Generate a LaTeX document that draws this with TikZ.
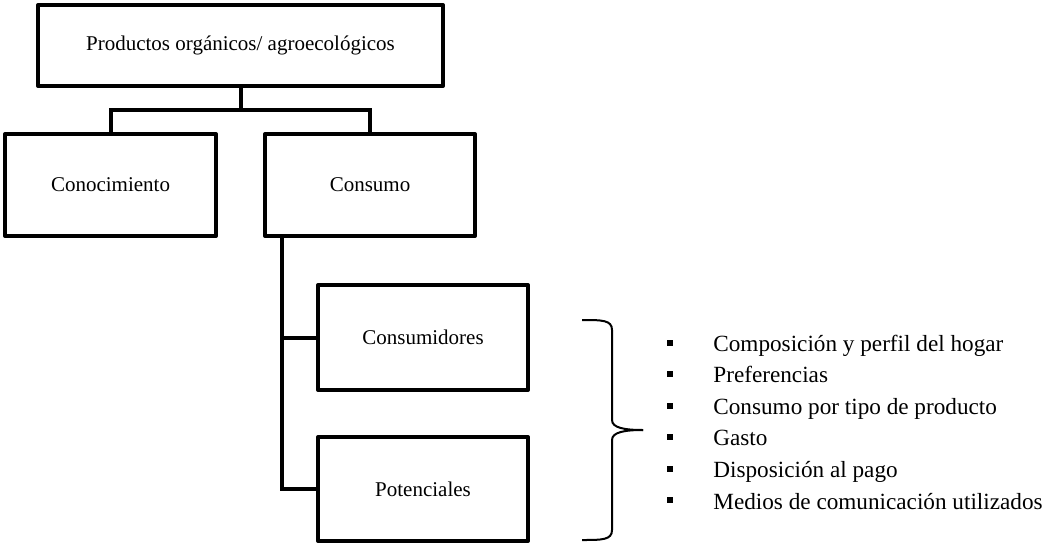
\documentclass[tikz,border=0pt]{standalone}
\usepackage{fontspec}
\setmainfont{Liberation Serif}

\begin{document}
\begin{tikzpicture}[x=0.5pt,y=-0.5pt,
box/.style = {% tree boxes
    draw=black, line width=2pt, line join=round, inner sep=0pt,
    font=\fontsize{10.5}{12.6}\selectfont,
            },
lnk/.style = {% tree connectors
    draw=black, line width=2pt, line join=miter,
            },
itm/.style = {% list texts
    anchor=base west, inner sep=0pt,
    font=\fontsize{11.6}{14}\selectfont,
            },
sq/.style = {% list bullets
    fill=black, inner sep=0pt, minimum size=3pt,
            },                        ]

  \useasboundingbox (0,0) rectangle (1052,545);

  \node[box, minimum width=202.5pt, minimum height=40.5pt]
      (prod) at (240.5,45.5) {Productos orgánicos/ agroecológicos};
  \node[box, minimum width=105.5pt, minimum height=51pt]
      (know) at (110.5,185) {Conocimiento};
  \node[box, minimum width=105pt, minimum height=51pt]
      (cons) at (370,185) {Consumo};
  \node[box, minimum width=105pt, minimum height=52.5pt]
      (cmr) at (423,337.5) {Consumidores};
  \node[box, minimum width=105pt, minimum height=52pt]
      (pot) at (423,489) {Potenciales};

  \coordinate (split) at (240.5,110);
  \draw[lnk] (prod.south) -- (split);
  \draw[lnk] (know.north) |- (split) -| (cons.north);

  \draw[lnk] ([xshift=9.5pt]cons.south west) |- (cmr.west);
  \draw[lnk] ([xshift=9.5pt]cons.south west) |- (pot.west);

  % brace
  \coordinate (tip) at (643,430);
  \draw[line width=1pt] (582,320) .. controls (602,320) and (612,320) .. (612,330)
      -- (612,420) .. controls (612,428) and (625,430) .. (tip);
  \draw[line width=1pt] (tip) .. controls (625,430) and (612,432) .. (612,440)
      -- (612,530) .. controls (612,540) and (602,540) .. (582,540);

  \node[sq] (s1) at (670,342.5) {};
  \node[sq] (s2) at (670,374) {};
  \node[sq] (s3) at (670,405.5) {};
  \node[sq] (s4) at (670,437) {};
  \node[sq] (s5) at (670,468.5) {};
  \node[sq] (s6) at (670,500) {};

  \node[itm] (i1) at (713,351) {Composición y perfil del hogar};
  \node[itm] (i2) at (713,382.6) {Preferencias};
  \node[itm] (i3) at (713,414.2) {Consumo por tipo de producto};
  \node[itm] (i4) at (713,445.8) {Gasto};
  \node[itm] (i5) at (713,477.4) {Disposición al pago};
  \node[itm] (i6) at (713,509) {Medios de comunicación utilizados};

\end{tikzpicture}
\end{document}
